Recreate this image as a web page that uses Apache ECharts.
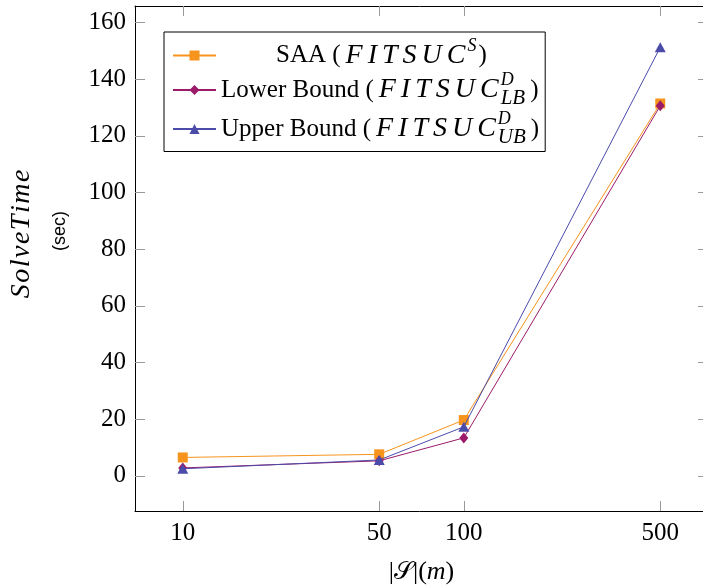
<!DOCTYPE html>
<html><head><meta charset="utf-8">
<script src="https://cdn.jsdelivr.net/npm/echarts@6/dist/echarts.min.js"></script>
<style>html,body{margin:0;padding:0;background:#fff}#c{width:703px;height:587px}</style>
</head><body><div id="c"></div>
<script>
// ---- data ----
const xValues = [10, 50, 100, 500];
const saa = [6.5, 7.6, 19.7, 131.4];
const lowerBound = [2.8, 5.3, 13.4, 130.6];
const upperBound = [2.5, 5.6, 17.3, 151.2];
const xTicks = [10, 50, 100, 500];
const yTicks = [0, 20, 40, 60, 80, 100, 120, 140, 160];
const seriesNames = ['SAA', 'Lower Bound', 'Upper Bound'];

// ---- styling ----
const SERIF = '"Liberation Serif", "DejaVu Serif", serif';
const colors = ['#F7941E', '#9B1B68', '#4B4BAA'];
const xMin = 6.762, xMax = 739.4, yMin = -12.4, yMax = 165.8;

function pairs(vals) { return xValues.map((x, i) => [x, vals[i]]); }
// math-italic word: one token per letter (spaced like TeX math italic)
function mathWord(word, style, lastStyle) {
  return word.split('').map((ch, i) => '{' + (i === word.length - 1 ? lastStyle : style) + '|' + ch + '}').join('');
}

const chart = echarts.init(document.getElementById('c'), null, {renderer: 'canvas'});

const tickStyle = {show: true, inside: true, length: 10, lineStyle: {color: '#9a9a9a', width: 1}};
const lineStyleAxis = {show: true, onZero: false, lineStyle: {color: '#000', width: 1}};

const LF = 25, MF = 28, LH = 37, SF = 18;
const rich = {
  pad: {width: 55, lineHeight: LH},
  t: {fontFamily: SERIF, fontSize: LF, lineHeight: LH, color: '#000'},
  tp: {fontFamily: SERIF, fontSize: LF, lineHeight: LH, color: '#000', padding: [0, 5, 0, 0]},
  m: {fontFamily: SERIF, fontSize: MF, lineHeight: LH, fontStyle: 'italic', color: '#000', padding: [0, 5, 0, 0]},
  mL: {fontFamily: SERIF, fontSize: MF, lineHeight: LH, fontStyle: 'italic', color: '#000', padding: [0, 2, 0, 0]},
  sp: {fontFamily: SERIF, fontSize: SF, lineHeight: 18, fontStyle: 'italic', verticalAlign: 'top', color: '#000', padding: [0, 2, 0, 0]},
  sup: {fontFamily: SERIF, fontSize: SF, lineHeight: 18, fontStyle: 'italic', verticalAlign: 'top', width: 0, color: '#000'},
  sub: {fontFamily: SERIF, fontSize: 21, lineHeight: 24, fontStyle: 'italic', verticalAlign: 'bottom', color: '#000', padding: [0, 5, 0, 0]}
};
const legendText = {
  'SAA': '{pad|}{tp|SAA (}' + mathWord('FITSUC', 'm', 'mL') + '{sp|S}{t|)}',
  'Lower Bound': '{tp|Lower Bound (}' + mathWord('FITSUC', 'm', 'mL') + '{sup|D}{sub|LB}{t|)}',
  'Upper Bound': '{tp|Upper Bound (}' + mathWord('FITSUC', 'm', 'mL') + '{sup|D}{sub|UB}{t|)}'
};

const symbols = ['rect', 'diamond', 'triangle'];
const symbolSizes = [10, [9, 11], [11, 10]];
const seriesData = [saa, lowerBound, upperBound];

const yLabelRich = {
  y: {fontFamily: SERIF, fontSize: 28, fontStyle: 'italic', color: '#000', padding: [0, 1.5, 0, 0]},
  yl: {fontFamily: SERIF, fontSize: 28, fontStyle: 'italic', color: '#000'}
};

const option = {
  animation: false,
  backgroundColor: '#fff',
  grid: {left: 135, top: 6, width: 573, height: 505, containLabel: false, outerBoundsMode: 'none'},
  legend: {
    orient: 'vertical', left: 164, top: 32,
    data: seriesNames,
    itemWidth: 43, itemHeight: 12.5, itemGap: 2,
    padding: [5, 6, 4, 8],
    borderColor: '#000', borderWidth: 1, backgroundColor: '#fff',
    formatter: name => legendText[name],
    textStyle: {fontFamily: SERIF, fontSize: LF, rich: rich}
  },
  xAxis: [{
    type: 'log', logBase: 10, min: xMin, max: xMax, position: 'bottom',
    axisLine: lineStyleAxis,
    axisTick: Object.assign({customValues: xTicks}, tickStyle),
    axisLabel: {customValues: xTicks, fontFamily: SERIF, fontSize: 25, color: '#000', margin: 10},
    splitLine: {show: false}, minorTick: {show: false},
    name: '{b||}{s|𝒮}{b||(}{i|m}{b|)}', nameLocation: 'middle', nameGap: 48,
    nameTextStyle: {rich: {
      b: {fontFamily: SERIF, fontSize: 26, color: '#000'},
      s: {fontFamily: '"DejaVu Serif", "DejaVu Sans", serif', fontSize: 25, color: '#000'},
      i: {fontFamily: SERIF, fontSize: 26, fontStyle: 'italic', color: '#000'}
    }}
  }, {
    type: 'log', logBase: 10, min: xMin, max: xMax, position: 'top',
    axisLine: lineStyleAxis,
    axisTick: Object.assign({customValues: xTicks}, tickStyle),
    axisLabel: {show: false}, splitLine: {show: false}
  }],
  yAxis: [{
    type: 'value', min: yMin, max: yMax, position: 'left',
    axisLine: lineStyleAxis,
    axisTick: Object.assign({customValues: yTicks}, tickStyle),
    axisLabel: {customValues: yTicks, fontFamily: SERIF, fontSize: 25, color: '#000', margin: 9},
    splitLine: {show: false}
  }, {
    type: 'value', min: yMin, max: yMax, position: 'right',
    axisLine: lineStyleAxis,
    axisTick: Object.assign({customValues: yTicks}, tickStyle),
    axisLabel: {show: false}, splitLine: {show: false}
  }],
  series: seriesNames.map((name, i) => ({
    name: name, type: 'line', xAxisIndex: 0, yAxisIndex: 0,
    data: pairs(seriesData[i]),
    symbol: symbols[i], symbolSize: symbolSizes[i],
    itemStyle: {color: colors[i]},
    lineStyle: {color: colors[i], width: 1},
    z: 2 + i
  })),
  graphic: [
    {type: 'text', x: 22, y: 234, rotation: Math.PI / 2,
     style: {text: mathWord('SolveTime', 'y', 'yl'), rich: yLabelRich, fill: '#000', align: 'center', verticalAlign: 'middle'}},
    {type: 'text', x: 60, y: 231, rotation: Math.PI / 2,
     style: {text: '(sec)', font: '18px "Liberation Sans", sans-serif', fill: '#000', align: 'center', verticalAlign: 'middle'}}
  ]
};
chart.setOption(option);
</script></body></html>
